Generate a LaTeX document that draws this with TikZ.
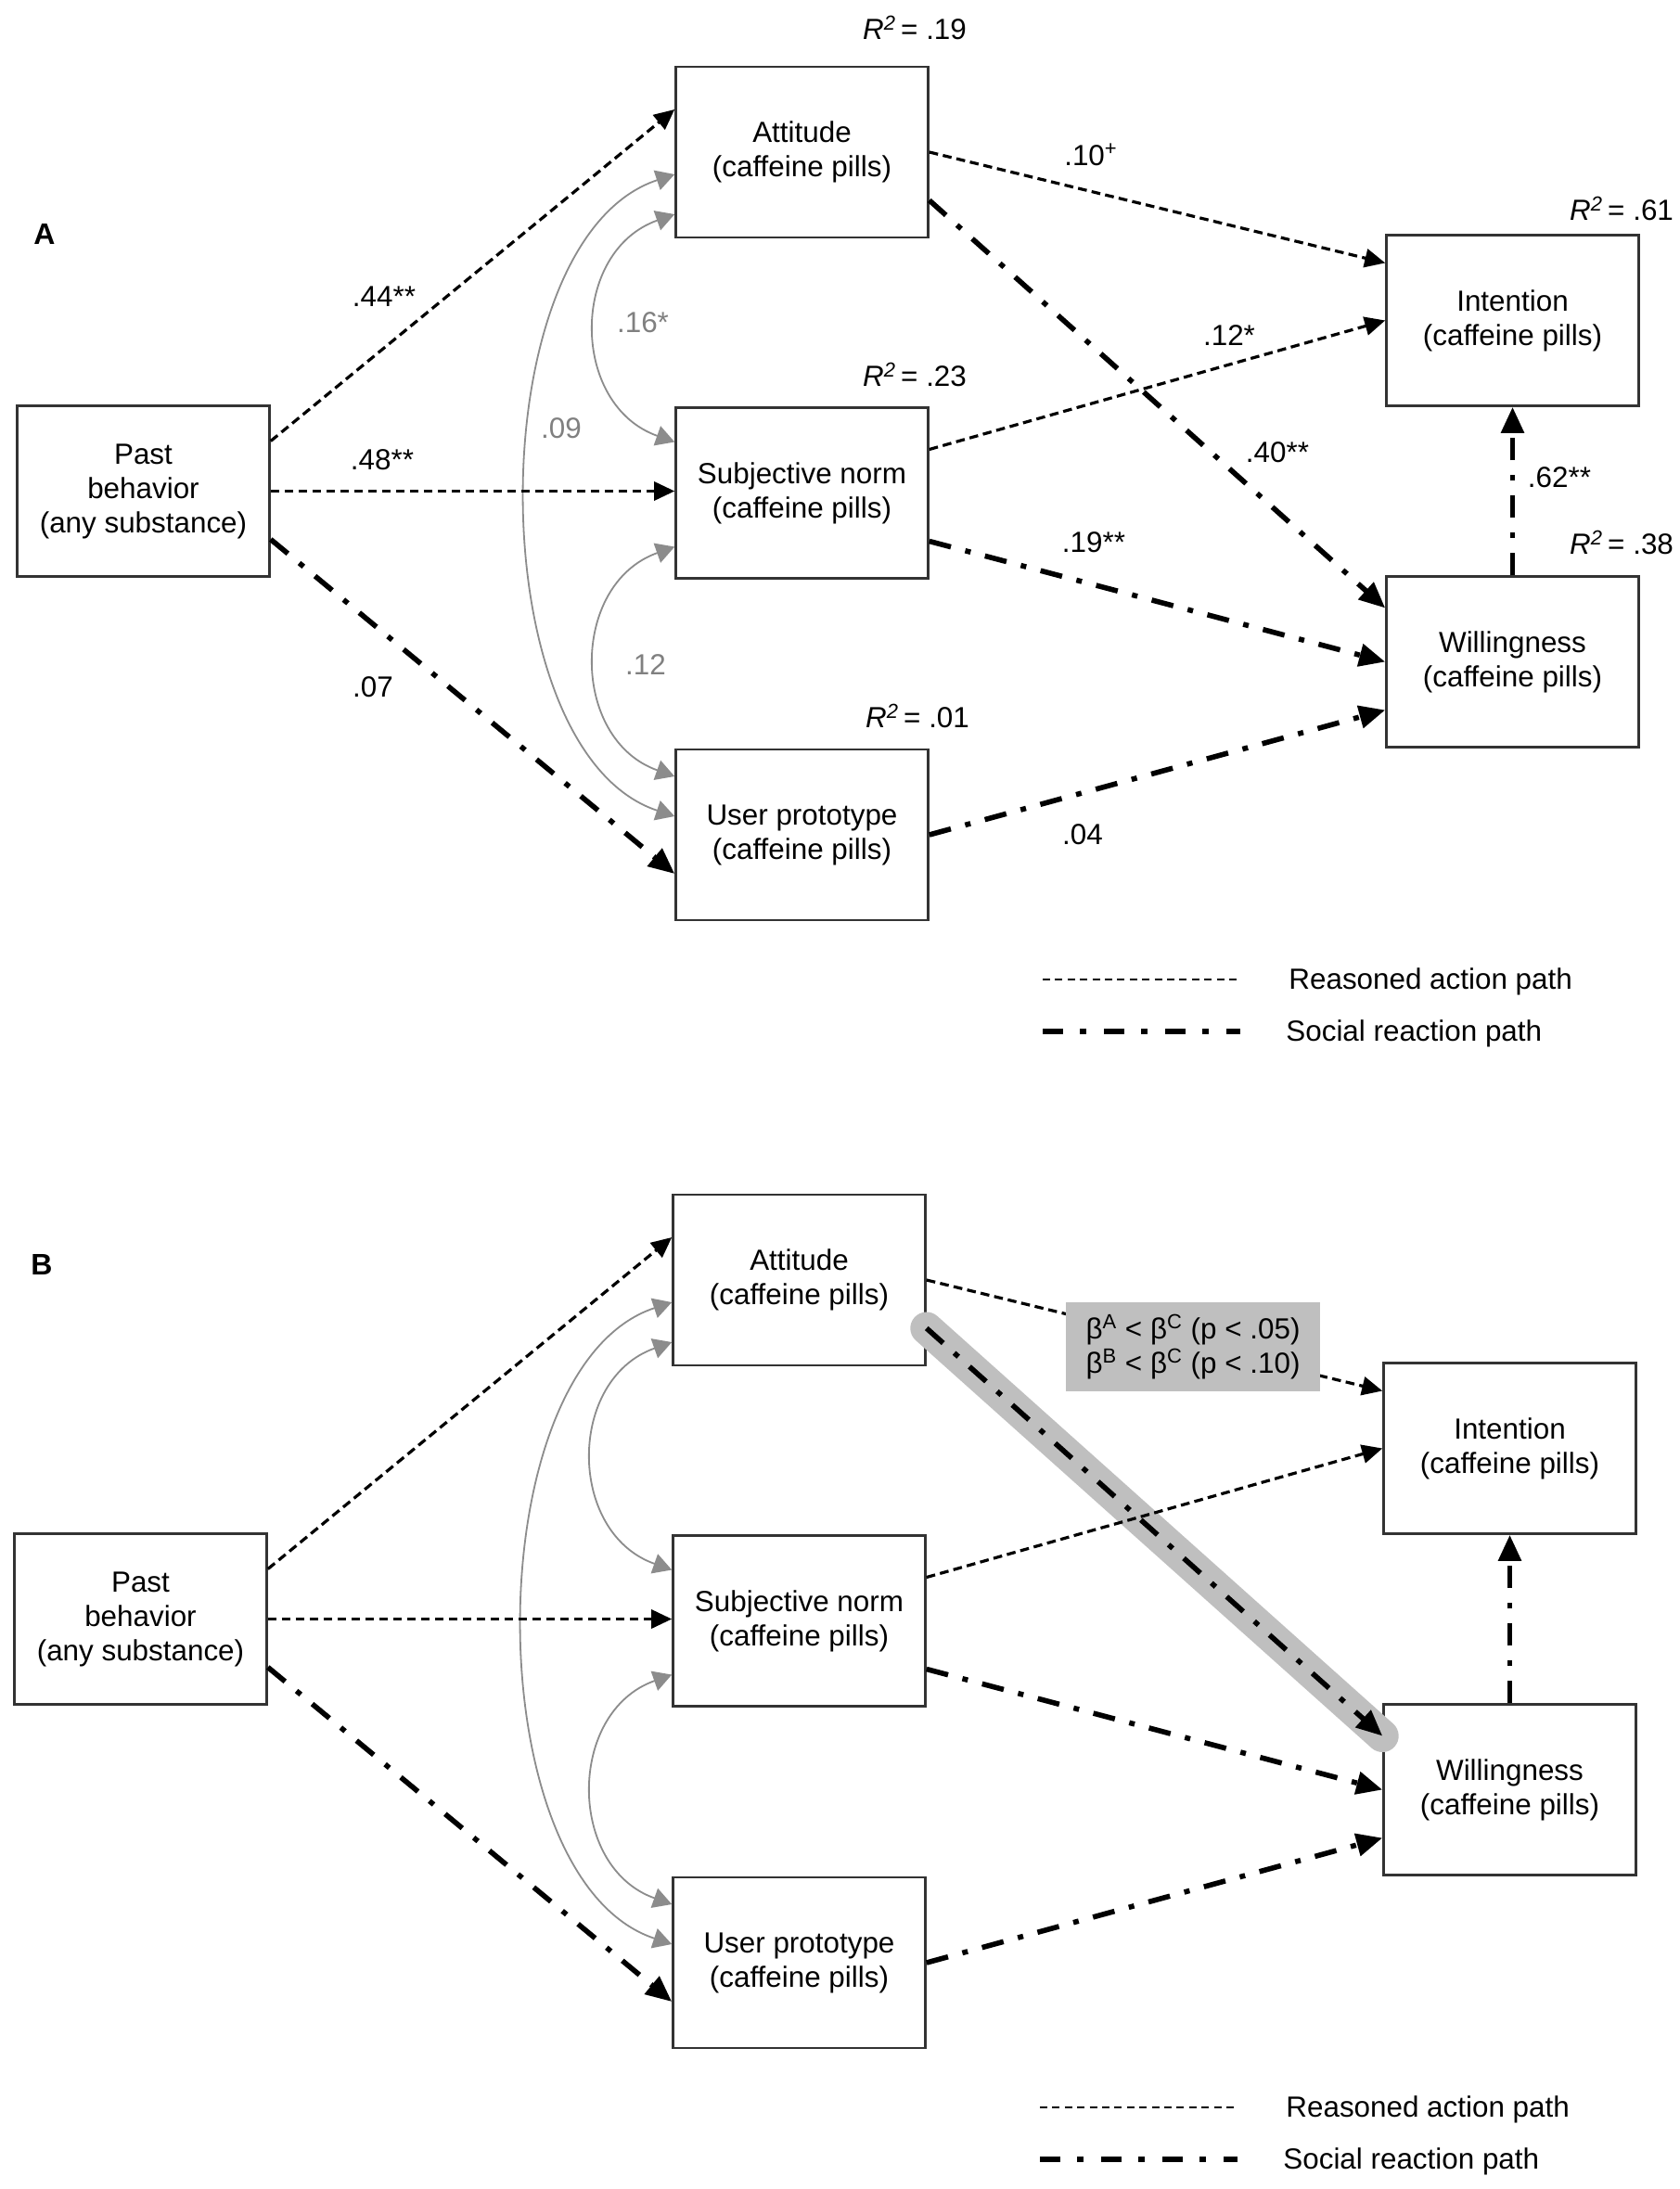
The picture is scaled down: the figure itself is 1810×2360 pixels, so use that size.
\documentclass[tikz,border=0pt]{standalone}
\usepackage{fontspec}
\setmainfont{Liberation Sans}
\usetikzlibrary{arrows.meta,calc}
\tikzset{
  txt/.style={font=\fontsize{15.7}{18.5}\selectfont},
  box/.style={txt, draw=black!80, line width=1.3pt, fill=white, minimum width=136pt, minimum height=92pt, inner sep=0pt, align=center},
  lab/.style={txt, inner sep=0pt},
  glab/.style={lab, text=black!50},
  panellab/.style={font=\fontsize{16}{19}\selectfont\bfseries, inner sep=0pt},
  reasoned/.style={draw=black, line width=1.6pt, dash pattern=on 4.8pt off 2.7pt, -{Triangle[length=11pt,width=10pt]}},
  social/.style={draw=black, line width=2.8pt, dash pattern=on 12pt off 8pt on 3pt off 8pt, -{Triangle[length=14pt,width=12pt]}},
  reasonedleg/.style={draw=black, line width=1.4pt, dash pattern=on 4pt off 2.7pt},
  socialleg/.style={draw=black, line width=2.8pt, dash pattern=on 11pt off 9pt on 3.5pt off 9.5pt},
  corr/.style={draw=black!45, line width=0.9pt, {Triangle[length=10pt,width=11pt]}-{Triangle[length=10pt,width=11pt]}},
  highlight/.style={draw=black!25, line width=17.5pt, line cap=round},
  betabox/.style={txt, fill=black!25, minimum width=137pt, minimum height=48pt, inner sep=0pt, align=center},
}
% #1 suffix, #2 dx, #3 dy
\newcommand\panelboxes[3]{%
  \node[box] (past#1) at ({154.5+#2},{529.5+#3}) {Past\\behavior\\(any substance)};
  \node[box] (att#1)  at ({864.5+#2},{164+#3}) {Attitude\\(caffeine pills)};
  \node[box] (sub#1)  at ({864.5+#2},{531.5+#3}) {Subjective norm\\(caffeine pills)};
  \node[box] (user#1) at ({864.5+#2},{900+#3}) {User prototype\\(caffeine pills)};
  \node[box] (int#1)  at ({1630.5+#2},{345.5+#3}) {Intention\\(caffeine pills)};
  \node[box] (will#1) at ({1630.5+#2},{713.5+#3}) {Willingness\\(caffeine pills)};
}
\newcommand\panellines[3]{%
  % correlations
  \draw[corr] ($(att#1.west)+(0,24)$) .. controls +(-212,70) and +(-212,-70) .. ($(user#1.west)+(0,-20)$);
  \draw[corr] ($(att#1.west)+(0,67)$) .. controls +(-113,40) and +(-113,-40) .. ($(sub#1.west)+(0,-55)$);
  \draw[corr] ($(sub#1.west)+(0,58)$) .. controls +(-113,40) and +(-113,-40) .. ($(user#1.west)+(0,-63)$);
  % paths
  \draw[reasoned] ($(past#1.east)+(0,-54)$) -- ($(att#1.west)+(0,-46)$);
  \draw[reasoned] (past#1.east) -- (past#1.east -| sub#1.west);
  \draw[social] ($(past#1.east)+(0,52)$) -- ($(user#1.west)+(0,42)$);
  \draw[reasoned] (att#1.east) -- ($(int#1.west)+(0,-62)$);
  \draw[social] ($(att#1.east)+(0,52)$) -- ($(will#1.west)+(0,-58)$);
  \draw[reasoned] ($(sub#1.east)+(0,-47)$) -- (int#1.west);
  \draw[social] ($(sub#1.east)+(0,52)$) -- (will#1.west);
  \draw[social] (user#1.east) -- ($(will#1.west)+(0,52)$);
  \draw[social] (will#1.north) -- (int#1.south);
  % legend
  \coordinate (ra1#1) at ({1124+#2},{1056+#3});
  \coordinate (ra2#1) at ({1337+#2},{1056+#3});
  \coordinate (sr1#1) at ({1124+#2},{1112+#3});
  \coordinate (sr2#1) at ({1337+#2},{1112+#3});
  \draw[reasonedleg] (ra1#1) -- (ra2#1);
  \draw[socialleg] (sr1#1) -- (sr2#1);
  \node[lab, anchor=west] (ratxt#1) at ({1389+#2},{1058+#3}) {Reasoned action path};
  \node[lab, anchor=west] (srtxt#1) at ({1386+#2},{1114+#3}) {Social reaction path};
}
\begin{document}
\begin{tikzpicture}[x=0.5pt,y=-0.5pt]
\path[fill=white, use as bounding box] (0,0) rectangle (1810,2360);

% ---------------- Panel A ----------------
\node[panellab] (labA) at (48,252) {A};
\panelboxes{A}{0}{0}
\panellines{A}{0}{0}
\node[lab] (l44) at (414,320) {.44**};
\node[lab] (l48) at (412,496) {.48**};
\node[lab] (l07) at (402,741) {.07};
\node[glab] (l16) at (693,348) {.16*};
\node[glab] (l09) at (605,462) {.09};
\node[glab] (l12g) at (696,717) {.12};
\node[lab] (r19) at (986,30) {{\itshape R\textsuperscript{2}}\,= .19};
\node[lab] (r23) at (986,404) {{\itshape R\textsuperscript{2}}\,= .23};
\node[lab] (r01) at (989,772) {{\itshape R\textsuperscript{2}}\,= .01};
\node[lab] (r61) at (1748,225) {{\itshape R\textsuperscript{2}}\,= .61};
\node[lab] (r38) at (1748,585) {{\itshape R\textsuperscript{2}}\,= .38};
\node[lab] (l10) at (1176,167) {.10\textsuperscript{+}};
\node[lab] (l12) at (1325,362) {.12*};
\node[lab] (l40) at (1377,488) {.40**};
\node[lab] (l62) at (1681,515) {.62**};
\node[lab] (l19) at (1179,585) {.19**};
\node[lab] (l04) at (1167,900) {.04};

% ---------------- Panel B ----------------
\node[panellab] (labB) at (45,1363) {B};
\panelboxes{B}{-3}{1216}
\draw[highlight] ($(attB.east)+(0,52)$) -- ($(willB.west)+(0,-58)$);
\panellines{B}{-3}{1216}
\node[betabox] (beta) at (1286,1452) {β\textsuperscript{A} < β\textsuperscript{C} (p < .05)\\β\textsuperscript{B} < β\textsuperscript{C} (p < .10)};
\end{tikzpicture}
\end{document}
